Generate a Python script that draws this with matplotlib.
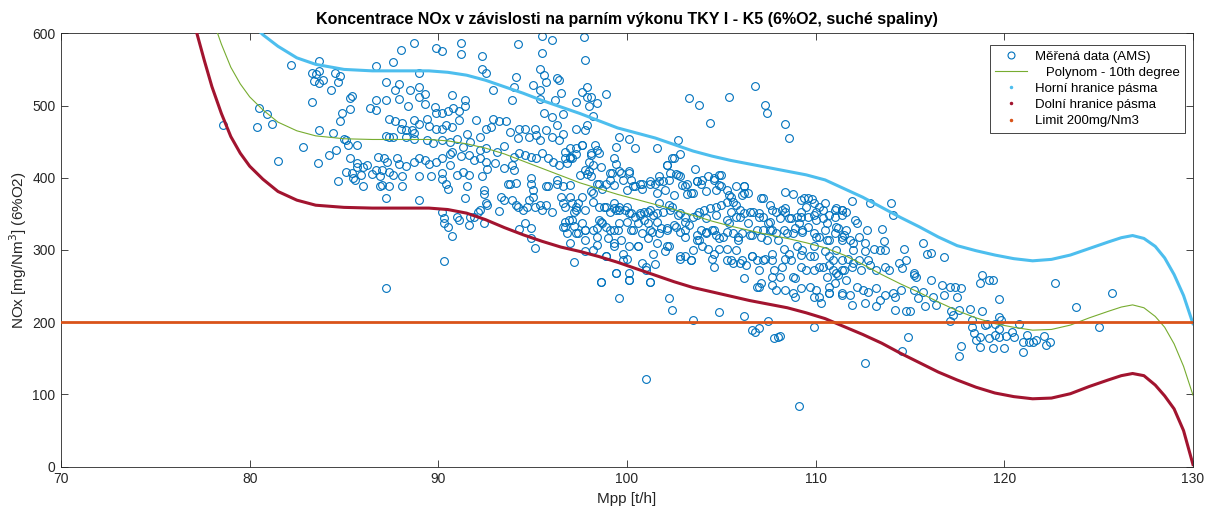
import matplotlib
matplotlib.use("Agg")
import matplotlib.pyplot as plt
from matplotlib.lines import Line2D
import numpy as np

plt.rcParams["font.family"] = ["Liberation Sans", "DejaVu Sans"]

ams_a = [
    (78.6, 473), (80.4, 470), (80.5, 497), (80.9, 488), (81.2, 475), (81.5, 423), (82.2, 556), (82.8, 442),
    (83.3, 545), (83.5, 543), (83.4, 534), (83.7, 561), (83.7, 548), (83.7, 531), (83.9, 535), (83.3, 505),
    (83.6, 420), (83.7, 466), (84.2, 432), (84.3, 522), (84.4, 462), (84.5, 545), (84.6, 439), (84.7, 532),
    (84.8, 541), (84.8, 479), (84.9, 490), (85.0, 454), (85.1, 452), (85.2, 446), (85.1, 408), (84.7, 395),
    (85.3, 427), (85.3, 495), (85.3, 510), (85.4, 513), (85.4, 406), (85.5, 399), (85.6, 397), (85.7, 445),
    (85.7, 421), (85.7, 415), (85.9, 404), (86.0, 388), (86.0, 415), (86.2, 418), (86.4, 497), (86.5, 405),
    (86.7, 494), (86.7, 507), (86.7, 555), (86.7, 411), (86.8, 429), (86.9, 402), (86.9, 388),
]
ams_b = [
    (87.2, 248), (88.0, 577), (88.7, 586), (89.9, 579), (90.2, 576), (91.2, 586), (91.2, 571), (92.3, 569),
    (94.2, 585), (95.5, 596), (96.0, 591), (95.5, 573), (87.6, 560), (89.0, 545), (92.3, 550), (92.5, 545),
    (92.9, 522), (94.1, 539), (94.0, 526), (95.4, 550), (95.6, 542), (95.7, 532), (96.3, 538), (96.4, 536),
    (95.0, 528), (95.4, 521), (96.5, 517), (87.2, 532), (87.9, 530), (87.7, 521), (88.5, 522), (89.0, 525),
    (89.3, 516), (87.2, 508), (87.9, 509), (89.0, 512), (88.4, 499), (89.3, 502), (89.8, 498), (90.7, 515),
    (90.8, 497), (91.1, 492), (91.4, 508), (91.4, 500), (90.5, 492), (90.2, 490), (89.9, 490), (93.9, 508),
    (95.4, 509), (96.2, 508), (97.3, 505), (95.6, 490), (96.0, 484), (96.6, 488),
    (87.4, 482), (87.7, 479), (88.1, 476), (88.7, 480), (89.0, 475), (89.4, 481), (89.5, 471), (89.9, 467),
    (90.2, 467), (90.4, 473), (90.7, 470), (91.1, 480), (88.3, 466), (88.6, 466), (88.7, 462), (88.0, 467),
    (87.4, 456), (87.2, 458), (87.6, 457), (88.3, 456), (88.7, 453), (89.4, 452), (89.7, 448), (90.2, 452),
    (90.6, 450), (91.0, 453), (91.5, 461), (92.0, 480), (92.2, 457), (92.5, 468), (92.9, 481), (93.2, 479),
    (93.6, 479), (92.8, 470), (91.7, 450), (91.3, 443), (92.2, 439), (92.5, 441), (93.1, 436), (93.5, 444),
    (93.8, 464), (94.2, 455), (94.3, 468), (94.6, 468), (94.8, 456), (95.1, 467), (95.2, 459), (95.4, 452),
    (95.7, 466), (96.0, 456), (96.3, 473), (96.4, 452), (96.6, 461), (97.3, 467), (97.0, 441), (97.3, 433),
    (94.0, 429), (94.3, 434), (94.6, 432), (94.9, 429), (95.2, 427), (95.5, 434), (95.8, 427), (96.1, 422),
    (96.4, 418), (96.7, 427), (97.0, 427), (87.1, 427), (87.3, 422), (87.8, 427), (87.9, 419), (88.3, 416),
    (88.7, 422), (89.0, 428), (89.3, 425), (89.5, 419), (89.9, 422), (90.2, 427), (90.6, 433), (90.7, 435),
    (91.2, 430), (91.6, 432), (91.9, 425), (92.2, 427), (92.5, 422), (93.0, 421), (87.0, 411), (87.4, 408),
    (87.6, 404), (88.1, 402), (89.0, 403), (89.6, 402), (90.2, 406), (90.4, 392), (90.6, 418), (91.0, 404),
    (91.3, 408), (91.6, 404), (92.3, 403), (92.6, 412), (93.5, 414), (93.9, 418), (94.0, 411), (87.0, 390),
    (87.2, 372), (87.4, 389), (88.1, 388), (89.0, 369), (90.2, 398), (90.5, 385), (91.4, 372), (91.5, 388),
    (92.4, 383), (92.4, 378), (92.5, 365), (92.6, 362), (93.7, 392), (93.8, 391), (94.1, 393), (94.1, 362),
    (93.3, 374), (93.5, 369), (93.9, 369), (94.2, 360), (94.5, 355), (94.7, 360), (94.9, 399), (94.9, 392),
    (95.0, 383), (95.0, 374), (95.1, 360), (95.4, 362), (95.5, 355), (95.7, 388), (95.8, 388), (95.7, 362),
    (96.0, 353), (96.3, 397), (96.3, 391), (96.5, 374), (96.6, 365), (96.7, 360), (97.0, 390), (97.1, 365),
    (97.3, 360), (97.3, 355), (94.8, 369),
    (90.2, 352), (90.3, 344), (90.3, 337), (90.5, 332), (90.7, 320), (91.0, 346), (91.1, 341), (91.6, 335),
    (91.7, 346), (91.9, 346), (92.1, 352), (92.2, 355), (92.4, 337), (93.2, 354), (94.3, 329), (94.6, 338),
    (94.9, 331), (94.9, 316), (95.1, 303), (90.3, 285), (96.6, 332), (96.7, 339), (96.8, 324), (96.9, 341),
    (97.1, 342), (97.2, 333), (97.2, 284), (97.4, 324),
]
ams_c = [
    (97.7, 595), (97.8, 563), (97.9, 526), (97.6, 519), (97.9, 512), (98.1, 512), (98.4, 503), (98.0, 499),
    (98.2, 486), (97.9, 473), (97.8, 466), (97.6, 445), (98.9, 516), (103.3, 510), (103.8, 501), (105.4, 512),
    (106.8, 527), (107.3, 501), (107.4, 490), (104.4, 476), (102.7, 452), (99.6, 457), (100.1, 453),
    (100.4, 441), (99.4, 442), (98.3, 445), (98.4, 438), (98.1, 434), (98.2, 418), (97.8, 411), (98.6, 415),
    (99.3, 428), (99.4, 419), (101.6, 441), (102.1, 418), (102.4, 427), (102.8, 433), (103.6, 412),
    (97.9, 405), (98.1, 402), (98.4, 392), (98.9, 391), (99.2, 406), (99.1, 397), (99.7, 406), (99.8, 397),
    (100.1, 406), (100.2, 397), (100.3, 388), (100.8, 392), (101.2, 392), (101.5, 392), (101.7, 402),
    (101.9, 395), (102.2, 397), (102.6, 405), (102.8, 402), (102.9, 390), (103.2, 378), (103.4, 379),
    (103.7, 395), (103.9, 392), (104.3, 402), (104.6, 397), (104.9, 404), (105.0, 388), (105.3, 383),
    (105.5, 374), (105.6, 367), (105.8, 388), (106.2, 379), (106.2, 389), (106.4, 379), (107.1, 372),
    (107.6, 362), (107.9, 353),
    (97.6, 374), (98.1, 381), (98.2, 367), (98.5, 360), (98.8, 360), (99.1, 353), (99.3, 365), (99.4, 355),
    (99.6, 360), (99.9, 355), (100.1, 351), (100.4, 346), (100.7, 349), (100.9, 353), (101.2, 355),
    (101.4, 349), (101.7, 365), (101.9, 353), (102.2, 362), (102.4, 360), (102.8, 351), (103.1, 339),
    (103.5, 346), (103.8, 353), (104.1, 355), (104.4, 358), (104.7, 360), (105.0, 362), (105.4, 337),
    (105.5, 353), (105.8, 346), (106.0, 355), (106.2, 351), (106.4, 337), (106.7, 353), (107.0, 351),
    (107.2, 346), (107.5, 337), (107.7, 328), (107.9, 323),
    (97.6, 337), (97.8, 328), (98.2, 328), (98.5, 342), (98.6, 339), (98.9, 332), (99.3, 328), (99.6, 337),
    (100.0, 339), (100.3, 328), (100.6, 337), (100.9, 342), (101.1, 337), (101.3, 325), (101.6, 339),
    (101.8, 330), (102.1, 328), (102.5, 335), (102.8, 325), (103.1, 328), (103.3, 335), (103.7, 321),
    (103.9, 328), (104.2, 325), (104.5, 328), (104.7, 321), (104.9, 316), (105.3, 325), (105.9, 318),
    (106.1, 323), (106.5, 321), (106.9, 328), (107.1, 318), (107.4, 314), (107.6, 328),
    (97.8, 314), (98.4, 318), (99.0, 316), (99.3, 309), (99.7, 314), (100.1, 305), (100.6, 305), (101.1, 316),
    (101.6, 309), (102.2, 305), (102.8, 288), (103.1, 291), (103.4, 286), (103.8, 314), (104.3, 302),
    (104.5, 288), (104.9, 302), (105.3, 302), (105.5, 286), (105.8, 300), (106.1, 286), (106.3, 279),
    (106.6, 291), (106.9, 286), (107.3, 288), (107.7, 286), (107.8, 272), (108.1, 263),
    (98.2, 300), (98.9, 291), (99.4, 268), (99.8, 286), (100.1, 268), (100.1, 258), (100.8, 282),
    (101.0, 272), (101.2, 256), (101.5, 281), (102.0, 298), (98.6, 256), (99.6, 233), (102.2, 233),
    (102.4, 217), (103.5, 203), (104.9, 214), (106.2, 261), (106.2, 208), (106.6, 189), (106.8, 187),
    (107.0, 192), (106.9, 249), (107.1, 254), (107.5, 201), (107.7, 252), (107.8, 178), (108.0, 180),
    (101.0, 121),
]
# extra points from the densest part of the cloud (96-112 t/h)
ams_core = [
    (102.1, 418), (102.5, 427), (97.3, 441), (97.6, 445), (98.1, 432), (98.5, 434), (96.7, 435), (97.0, 429),
    (96.8, 420), (97.1, 427), (98.0, 422), (98.0, 409), (97.5, 404), (99.1, 406), (99.6, 409), (100.1, 409),
    (100.7, 392), (101.2, 395), (101.7, 395), (102.3, 406), (102.7, 404), (103.2, 392), (103.7, 395),
    (104.0, 397), (104.6, 399), (105.0, 404), (104.9, 390), (105.4, 376), (106.2, 388), (106.1, 376),
    (107.2, 372), (107.7, 355), (108.4, 358), (109.2, 369), (109.6, 372), (109.9, 365), (110.4, 355),
    (111.0, 355), (111.4, 355), (98.5, 392), (98.2, 379), (98.7, 385), (99.3, 390), (100.0, 383),
    (100.4, 388), (100.8, 385), (101.6, 379), (102.0, 383), (102.5, 376), (103.1, 388), (103.5, 379),
    (104.2, 381), (104.7, 383), (105.3, 367), (105.8, 362), (96.6, 388), (97.0, 374), (97.4, 365),
    (97.8, 355), (97.2, 353), (98.9, 360), (99.3, 358), (99.6, 355), (100.0, 360), (100.2, 351),
    (100.7, 351), (101.1, 353), (101.6, 351), (102.3, 355), (102.7, 349), (103.1, 346), (103.7, 349),
    (104.2, 344), (104.7, 349), (105.3, 342), (106.0, 346), (106.5, 353), (107.0, 346), (107.6, 339),
    (108.1, 344), (108.6, 344), (109.2, 346), (109.6, 346), (110.0, 342), (110.6, 337), (111.1, 332),
    (111.6, 328), (112.1, 342), (96.7, 332), (97.3, 323), (97.8, 328), (98.4, 330), (98.7, 337),
    (99.1, 328), (99.5, 328), (100.2, 328), (100.8, 323), (101.2, 328), (101.7, 323), (102.1, 330),
    (102.6, 332), (103.1, 318), (103.7, 314), (104.2, 323), (104.6, 328), (105.1, 318), (105.6, 323),
    (105.9, 314), (106.6, 321), (107.2, 328), (108.0, 314), (108.8, 323), (109.3, 328), (110.0, 318),
    (110.6, 314), (111.4, 318), (112.0, 309), (97.0, 309), (97.8, 298), (98.4, 307), (99.3, 305),
    (99.8, 295), (100.6, 305), (101.4, 295), (102.1, 305), (102.8, 291), (103.5, 300), (104.0, 305),
    (104.6, 295), (105.3, 286), (106.0, 282), (106.6, 291), (107.2, 286), (107.7, 295), (108.4, 288),
    (109.2, 293), (109.9, 291), (110.4, 277), (110.9, 286), (111.4, 272), (112.0, 282), (98.9, 291),
    (100.0, 288), (101.0, 277), (103.4, 286), (104.6, 277), (105.6, 282), (107.0, 272), (107.7, 263),
    (108.8, 263), (109.5, 272), (110.6, 263), (111.1, 268), (111.6, 258), (107.0, 249), (107.9, 245),
    (108.8, 240), (109.7, 249), (110.2, 235), (110.7, 240), (111.4, 240), (99.4, 268), (100.1, 259),
    (101.2, 256), (98.6, 256),
]
ams_d = [
    (108.4, 474), (108.6, 455), (108.4, 380), (108.8, 378), (109.4, 372), (109.8, 370), (110.2, 360),
    (110.5, 365), (111.1, 358), (111.6, 353), (111.9, 368), (112.9, 365), (114.0, 365), (114.1, 349),
    (108.2, 355), (108.4, 353), (108.7, 344), (109.0, 346), (109.2, 353), (109.5, 360), (109.9, 349),
    (110.0, 353), (110.4, 344), (110.7, 349), (111.0, 346), (111.4, 349), (111.4, 355), (112.2, 337),
    (112.7, 328), (113.5, 329), (113.6, 312), (108.3, 328), (108.5, 323), (108.9, 330), (109.1, 337),
    (109.3, 325), (109.6, 332), (109.9, 323), (110.2, 318), (110.5, 328), (110.7, 314), (111.0, 323),
    (111.2, 330), (111.4, 314), (111.5, 321), (111.8, 314), (112.3, 318), (112.6, 309), (113.1, 302),
    (113.4, 300), (113.7, 300), (114.7, 302), (115.7, 310), (115.9, 294), (116.1, 296), (116.8, 290),
    (108.3, 302), (108.6, 295), (109.0, 305), (109.3, 300), (109.7, 291), (109.9, 305), (110.5, 298),
    (110.7, 291), (111.1, 300), (111.4, 286), (111.7, 288), (112.0, 300), (112.3, 286), (112.6, 298),
    (112.8, 286), (108.2, 277), (108.7, 286), (109.2, 277), (109.9, 272), (110.2, 277), (110.7, 279),
    (110.9, 272), (111.2, 265), (111.5, 272), (111.9, 277), (112.4, 272), (112.9, 279), (113.2, 272),
    (113.7, 277), (113.9, 272), (114.4, 282), (114.6, 275), (114.8, 286), (115.3, 263), (115.2, 268),
    (108.9, 261), (108.4, 245), (108.9, 235), (109.2, 247), (109.9, 235), (110.0, 245), (110.3, 226),
    (110.7, 249), (110.7, 240), (111.0, 254), (111.4, 238), (111.8, 238), (111.9, 224), (112.2, 249),
    (112.5, 245), (112.6, 226), (112.8, 242), (113.2, 247), (113.4, 231), (113.2, 222), (113.7, 238),
    (114.1, 240), (114.2, 235), (114.2, 217), (114.5, 245), (114.8, 215), (115.0, 215), (115.2, 265),
    (115.2, 245), (115.4, 233), (115.7, 242), (115.8, 222), (116.1, 258), (116.2, 235), (116.4, 224),
    (116.7, 252), (116.8, 238), (117.1, 249), (117.2, 215), (117.4, 249), (117.5, 235), (117.7, 247),
    (117.6, 217), (117.3, 210), (118.2, 218), (118.3, 203), (118.3, 194), (118.4, 185), (118.5, 176),
    (118.7, 166), (117.7, 167), (117.6, 153), (117.1, 201), (109.9, 194), (108.1, 181), (112.6, 144),
    (114.6, 160), (114.9, 180), (109.1, 84), (118.7, 254),
]
ams_e = [
    (118.8, 265), (119.2, 259), (119.4, 258), (118.8, 215), (119.7, 232), (119.7, 207), (119.8, 203),
    (119.0, 196), (119.1, 198), (119.5, 198), (119.7, 191), (118.7, 180), (119.2, 178), (119.5, 182),
    (119.7, 180), (119.4, 164), (120.0, 164), (120.1, 181), (120.4, 187), (120.5, 179), (120.8, 198),
    (121.0, 172), (121.0, 159), (121.2, 182), (121.3, 173), (121.5, 173), (121.7, 175), (122.1, 181),
    (122.2, 168), (122.4, 173), (122.7, 254), (123.8, 221), (125.0, 194), (125.7, 240),
]

# 10th degree polynomial fit and band limits
fit_mpp = [77.2, 77.6, 78.0, 78.5, 79.0, 79.5, 80.0, 80.7, 81.5, 82.5, 83.5, 85.0, 86.5, 88.0, 89.5,
           90.5, 91.5, 92.5, 93.5, 94.5, 95.5, 96.5, 97.5, 98.5, 99.5, 100.5, 101.5, 102.5, 103.5,
           104.5, 105.5, 106.5, 107.5, 108.5, 109.5, 110.5, 111.5, 112.5, 113.5, 114.5, 115.5, 116.5,
           117.5, 118.5, 119.5, 120.5, 121.5, 122.5, 123.5, 124.5, 125.5, 126.2, 126.8, 127.4, 128.0,
           128.5, 129.0, 129.5, 130.0]
fit_nox = [696, 658, 622, 585, 553, 530, 512, 494, 477, 465, 458, 454, 453, 453, 453,
           451, 447, 441, 433, 423, 413, 403, 393, 385, 377, 370, 363, 356, 348,
           340, 333, 327, 321, 316, 310, 303, 293, 280, 266, 253, 241, 228,
           216, 206, 198, 193, 189, 190, 196, 206, 215, 221, 224, 220, 208,
           193, 170, 139, 99]
upper_nox = [810, 770, 732, 693, 659, 635, 616, 598, 582, 566, 557, 550, 548, 548, 548,
             546, 542, 535, 526, 517, 507, 498, 489, 479, 469, 462, 455, 446, 437,
             430, 424, 419, 414, 409, 404, 397, 385, 373, 359, 345, 332, 318,
             306, 299, 293, 288, 285, 287, 293, 302, 311, 317, 320, 316, 305,
             289, 266, 237, 198]
lower_nox = [600, 562, 526, 489, 457, 434, 416, 398, 381, 369, 362, 359, 358, 358, 358,
             356, 351, 342, 331, 321, 312, 304, 298, 291, 283, 274, 265, 256, 248,
             242, 236, 230, 225, 220, 213, 205, 194, 183, 171, 157, 144, 131,
             120, 110, 102, 97, 94, 95, 101, 111, 120, 126, 129, 126, 113,
             98, 80, 50, 3]
limit_mpp = [70, 130]
limit_nox = [200, 200]

c_data = "#0072BD"
c_fit = "#77AC30"
c_up = "#4DBEEE"
c_low = "#A2142F"
c_lim = "#D95319"
c_ax = "#262626"

ams = np.array(ams_a + ams_b + ams_c + ams_core + ams_d + ams_e)

fig = plt.figure(figsize=(12.06, 5.13), dpi=100)
ax = fig.add_axes([0.0506, 0.0903, 0.9386, 0.8448])

ax.plot(ams[:, 0], ams[:, 1], ls="none", marker="o", ms=5.6, mfc="none",
        mec=c_data, mew=0.8, zorder=2)
ax.plot(fit_mpp, fit_nox, color=c_fit, lw=0.8, zorder=3)
ax.plot(fit_mpp, upper_nox, color=c_up, lw=2.2, zorder=4)
ax.plot(fit_mpp, lower_nox, color=c_low, lw=2.2, zorder=4)
ax.plot(limit_mpp, limit_nox, color=c_lim, lw=2.0, zorder=5)

ax.set_xlim(70, 130)
ax.set_ylim(0, 600)
ax.set_xticks(np.arange(70, 131, 10))
ax.set_yticks(np.arange(0, 601, 100))
ax.tick_params(direction="in", length=5, width=0.6, top=True, right=True,
               labelsize=10, colors=c_ax, pad=4)
for s in ax.spines.values():
    s.set_color(c_ax)
    s.set_linewidth(0.6)

ax.set_title("Koncentrace NOx v závislosti na parním výkonu TKY I - K5 (6%O2, suché spaliny)",
             fontsize=11.5, fontweight="bold", pad=7)
ax.set_xlabel("Mpp [t/h]", fontsize=11, color=c_ax, labelpad=4)
ax.set_ylabel("NOx [mg/Nm$^3$] (6%O2)", fontsize=11, color=c_ax, labelpad=2)

handles = [
    Line2D([], [], ls="none", marker="o", ms=5, mfc="none", mec=c_data, mew=0.8),
    Line2D([], [], color=c_fit, lw=0.8),
    Line2D([], [], ls="none", marker=".", ms=3, color=c_up),
    Line2D([], [], ls="none", marker=".", ms=3, color=c_low),
    Line2D([], [], ls="none", marker=".", ms=3, color=c_lim),
]
labels = ["Měřená data (AMS)", "   Polynom - 10th degree", "Horní hranice pásma",
          "Dolní hranice pásma", "Limit 200mg/Nm3"]
leg = ax.legend(handles, labels, loc="upper right", bbox_to_anchor=(0.993, 0.973),
                borderaxespad=0, fontsize=9.5, frameon=True, fancybox=False,
                framealpha=1, edgecolor=c_ax, labelspacing=0.3, handlelength=2.4,
                handletextpad=0.6, borderpad=0.4)
leg.get_frame().set_linewidth(0.6)

fig.savefig("out.png", dpi=100)
